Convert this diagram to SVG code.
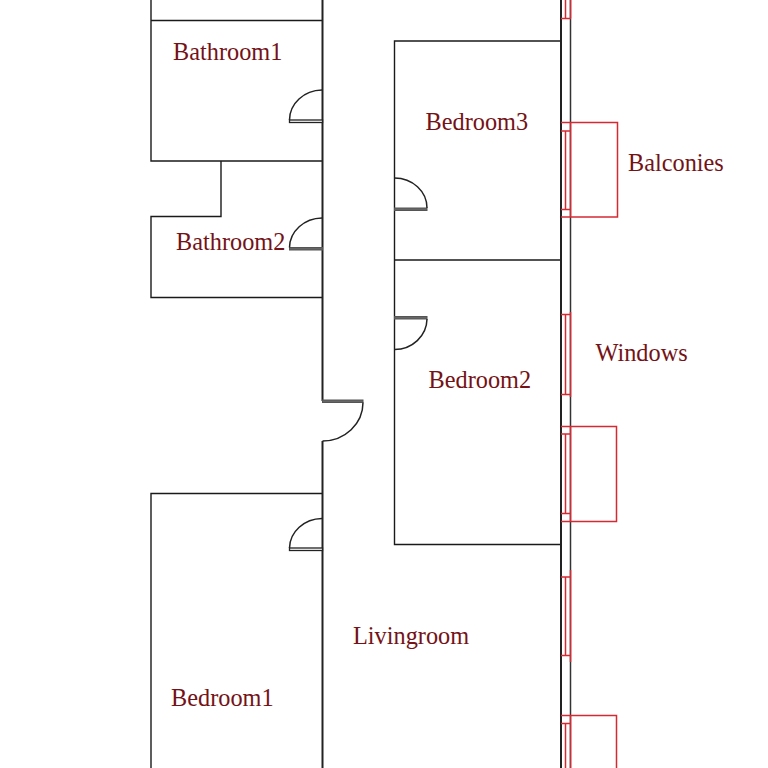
<svg xmlns="http://www.w3.org/2000/svg" width="768" height="768" viewBox="0 0 768 768">
<style>
.w{fill:none;stroke:#1a1a1a;stroke-width:1.4}
.o{fill:none;stroke:#222;stroke-width:2}
.d{fill:#fff;stroke:#222;stroke-width:1.3}
.g{fill:#666;stroke:#555;stroke-width:1}
.a{fill:none;stroke:#222;stroke-width:1.5}
.r{fill:none;stroke:#d62a33;stroke-width:1.5}
text{font-family:"Liberation Serif",serif;font-size:24.3px;fill:#741216}
</style>
<rect width="768" height="768" fill="#fff"/>
<g id="walls">
<path class="w" d="M151 0V161H322M151 20.500H322M221 161V216.500H151V297.500H322M151 768V493.500H322"/>
<path class="w" d="M561 41H394.500V544.500H561M394.500 260H561"/>
<path class="o" d="M322.500 0V401M322.500 441V768"/>
<path class="o" d="M561 0V768"/>
<path d="M570.500 0V768" fill="none" stroke="#333" stroke-width="1.500"/>
</g>
<g id="doors">
<rect class="d" x="289.500" y="120" width="33" height="2.500"/>
<path class="a" d="M289.500 120A33 30 0 0 1 322 90"/>
<rect class="g" x="289.500" y="247.500" width="33" height="2.500"/>
<path class="a" d="M289.500 247.500A33 30 0 0 1 322 218"/>
<rect class="g" x="394.500" y="208" width="32.500" height="2.500"/>
<path class="a" d="M427 208A32.500 30 0 0 0 394.500 178"/>
<rect class="g" x="394.500" y="316.500" width="32.500" height="2.500"/>
<path class="a" d="M427 319A32.500 31 0 0 1 394.500 349.500"/>
<rect class="g" x="322.500" y="400" width="40.500" height="2.500"/>
<path class="a" d="M363 402.500A40.500 38.500 0 0 1 322.500 441"/>
<rect class="d" x="289.500" y="548" width="33" height="2.500"/>
<path class="a" d="M289.500 548A33 30 0 0 1 322 518.500"/>
</g>
<g id="balconies">
<path class="r" d="M561 122.500H617.500V217H561M561 131H571M561 209.500H571M565.500 131V209.500M570.500 122.500V217"/>
<path class="r" d="M561 426.500H616.500V521.500H561M561 434H571M561 513.500H571M565.500 434V513.500M570.500 426.500V521.500"/>
<path class="r" d="M561 715.500H616.500V768M561 723.500H571M565.500 723.500V768M570.500 715.500V768"/>
</g>
<g id="windows">
<path class="r" d="M565.500 0V18.500M570.500 0V18.500M561 18.500H571"/>
<path class="r" d="M561 314.500H571M561 394.500H571M565.500 314.500V394.500M570.500 312V397"/>
<path class="r" d="M561 577H571M561 655.500H571M565.500 577V655.500M570.500 570V662"/>
</g>
<g id="labels">
<text x="173" y="60">Bathroom1</text>
<text x="176" y="250">Bathroom2</text>
<text x="425.500" y="130">Bedroom3</text>
<text x="428.500" y="388">Bedroom2</text>
<text x="171" y="706">Bedroom1</text>
<text x="353" y="644">Livingroom</text>
<text x="628" y="171">Balconies</text>
<text x="595.500" y="361">Windows</text>
</g>
</svg>
